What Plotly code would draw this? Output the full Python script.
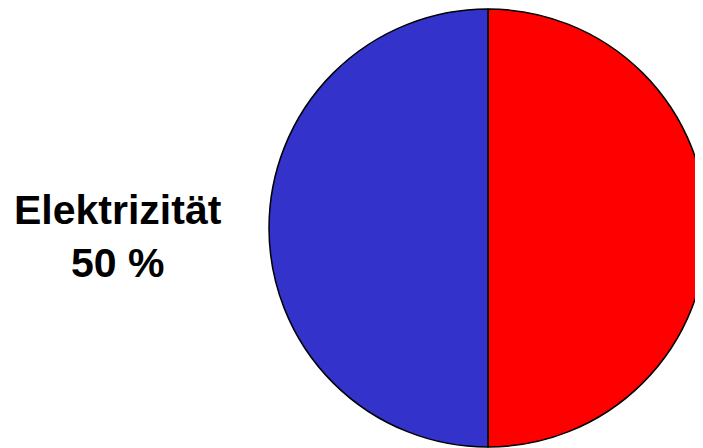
import plotly.graph_objects as go

labels = ["Andere", "Elektrizität"]
values = [50, 50]
colors = ["#FF0000", "#3333CC"]
label_text = "Elektrizität<br>50 %"

W, H = 703, 448
# page body has an 8px margin; positions below are in figure pixels
cx, cy, r = 480, 220, 219

fig = go.Figure(go.Pie(
    labels=labels,
    values=values,
    sort=False,
    direction="clockwise",
    rotation=0,
    textinfo="none",
    hoverinfo="label+percent",
    marker=dict(colors=colors, line=dict(color="black", width=1.5)),
    domain=dict(x=[(cx - r) / W, (cx + r) / W], y=[(H - cy - r) / H, (H - cy + r) / H]),
    showlegend=False,
))

fig.add_annotation(
    text="<b>" + label_text + "</b>",
    x=109.5 / W, y=1 - 228 / H, xref="paper", yref="paper",
    xanchor="center", yanchor="middle", showarrow=False,
    font=dict(family="Liberation Sans", size=41, color="black"),
    align="center",
)

fig.update_layout(
    width=W, height=H,
    margin=dict(l=0, r=0, t=0, b=0),
    paper_bgcolor="white", plot_bgcolor="white",
)

fig.write_html(
    "out.html",
    post_script="document.documentElement.style.overflow='hidden';document.body.style.overflow='hidden';",
)
